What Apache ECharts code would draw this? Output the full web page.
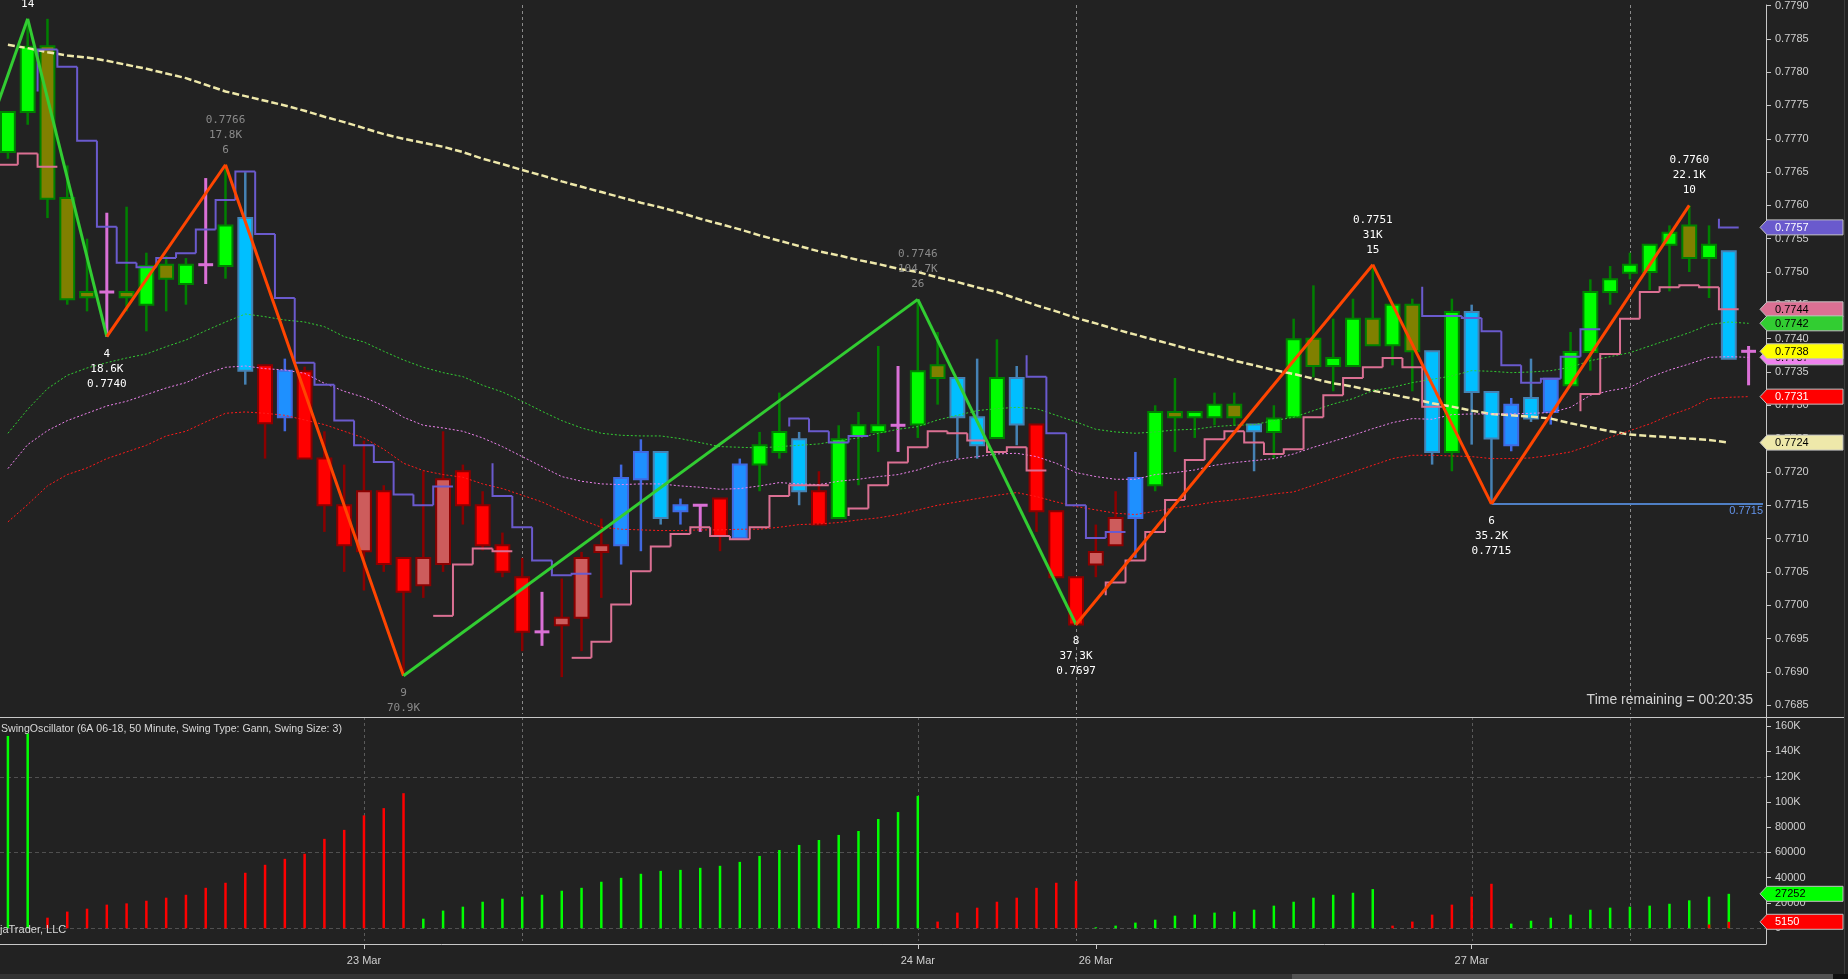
<!DOCTYPE html>
<html><head><meta charset="utf-8">
<script src="https://cdn.jsdelivr.net/npm/echarts@6.0.0/dist/echarts.min.js"></script>
<style>html,body{margin:0;padding:0;background:#222222;overflow:hidden}#c{width:1848px;height:979px}</style>
</head><body><div id="c"></div>
<script>
// ---------- DATA ----------
const barColorRows = ["GGOOODOGOG","DGCRBRRRIR","RIIRRRRDII","IBBCBDRBGG","CRGGGDGOCC","GCRRRIIBGO","GGOCGGOGGO","GOCGCCBCBG","GGGGGOGCD"];
const opens = [
0.77680,0.77740,0.77839,0.77611,0.77470,0.77470,0.77470,0.77451,0.77511,0.77482,
0.77511,0.77509,0.77581,0.77360,0.77282,0.77351,0.77220,0.77150,0.77081,0.77171,
0.77071,0.77030,0.77062,0.77201,0.77150,0.77090,0.77042,0.76960,0.76970,0.76981,
0.77080,0.77090,0.77189,0.77230,0.77141,0.77150,0.77160,0.77101,0.77211,0.77230,
0.77249,0.77171,0.77131,0.77254,0.77260,0.77270,0.77271,0.77360,0.77341,0.77282,
0.77251,0.77341,0.77271,0.77141,0.77042,0.77061,0.77090,0.77131,0.77180,0.77290,
0.77282,0.77282,0.77301,0.77271,0.77260,0.77282,0.77400,0.77359,0.77359,0.77430,
0.77390,0.77451,0.77381,0.77230,0.77440,0.77320,0.77240,0.77311,0.77290,0.77330,
0.77380,0.77470,0.77499,0.77500,0.77541,0.77570,0.77521,0.77531,0.77381];
const highs = [
0.77740,0.77880,0.77880,0.77660,0.77550,0.77589,0.77598,0.77529,0.77524,0.77521,
0.77641,0.77661,0.77650,0.77360,0.77370,0.77358,0.77261,0.77211,0.77247,0.77180,
0.77071,0.77201,0.77261,0.77211,0.77171,0.77109,0.77071,0.77020,0.77040,0.77080,
0.77130,0.77211,0.77249,0.77230,0.77160,0.77150,0.77160,0.77220,0.77260,0.77319,
0.77260,0.77201,0.77270,0.77290,0.77389,0.77359,0.77459,0.77410,0.77341,0.77370,
0.77399,0.77359,0.77271,0.77141,0.77042,0.77121,0.77171,0.77230,0.77300,0.77341,
0.77290,0.77319,0.77319,0.77271,0.77300,0.77430,0.77480,0.77430,0.77460,0.77511,
0.77451,0.77460,0.77381,0.77460,0.77451,0.77320,0.77311,0.77370,0.77340,0.77410,
0.77489,0.77509,0.77529,0.77541,0.77570,0.77600,0.77570,0.77531,0.77389];
const lows = [
0.77670,0.77721,0.77581,0.77451,0.77441,0.77403,0.77441,0.77411,0.77441,0.77451,
0.77482,0.77490,0.77331,0.77220,0.77261,0.77220,0.77110,0.77050,0.77022,0.77050,
0.76894,0.77011,0.77050,0.77121,0.77082,0.77042,0.76931,0.76939,0.76892,0.76931,
0.77011,0.77061,0.77081,0.77121,0.77121,0.77110,0.77081,0.77101,0.77171,0.77220,
0.77150,0.77121,0.77131,0.77180,0.77230,0.77230,0.77251,0.77301,0.77220,0.77220,
0.77251,0.77240,0.77110,0.77042,0.76971,0.77042,0.77090,0.77071,0.77171,0.77230,
0.77251,0.77270,0.77270,0.77201,0.77220,0.77282,0.77342,0.77321,0.77359,0.77390,
0.77360,0.77321,0.77211,0.77201,0.77241,0.77152,0.77231,0.77275,0.77271,0.77330,
0.77352,0.77451,0.77489,0.77473,0.77471,0.77500,0.77461,0.77370,0.77330];
const closes = [
0.77740,0.77838,0.77610,0.77459,0.77462,0.77470,0.77462,0.77509,0.77490,0.77511,
0.77511,0.77570,0.77352,0.77273,0.77352,0.77220,0.77150,0.77090,0.77171,0.77062,
0.77020,0.77071,0.77189,0.77150,0.77090,0.77050,0.76960,0.76960,0.76981,0.77071,
0.77090,0.77191,0.77230,0.77131,0.77150,0.77150,0.77104,0.77211,0.77240,0.77260,
0.77171,0.77121,0.77249,0.77270,0.77270,0.77270,0.77351,0.77341,0.77282,0.77240,
0.77341,0.77271,0.77141,0.77042,0.76971,0.77080,0.77131,0.77191,0.77290,0.77282,
0.77290,0.77301,0.77282,0.77261,0.77280,0.77399,0.77359,0.77371,0.77430,0.77390,
0.77451,0.77381,0.77230,0.77440,0.77320,0.77250,0.77301,0.77280,0.77340,0.77380,
0.77470,0.77489,0.77511,0.77541,0.77559,0.77521,0.77541,0.77370,0.77381];

const greenMA = [
0.77258,0.77294,0.77325,0.77345,0.77356,0.77364,0.77371,0.77377,0.77388,0.77398,
0.77412,0.77425,0.77437,0.77433,0.77428,0.77425,0.77418,0.77403,0.77395,0.77381,
0.77368,0.77357,0.77349,0.77343,0.77330,0.77320,0.77306,0.77291,0.77277,0.77266,
0.77258,0.77255,0.77254,0.77254,0.77250,0.77244,0.77238,0.77237,0.77236,0.77238,
0.77240,0.77242,0.77247,0.77251,0.77258,0.77264,0.77268,0.77278,0.77285,0.77292,
0.77295,0.77297,0.77295,0.77285,0.77275,0.77264,0.77260,0.77258,0.77260,0.77263,
0.77264,0.77268,0.77270,0.77271,0.77277,0.77282,0.77292,0.77302,0.77310,0.77322,
0.77327,0.77334,0.77339,0.77344,0.77352,0.77351,0.77349,0.77350,0.77352,0.77357,
0.77367,0.77373,0.77379,0.77389,0.77399,0.77409,0.77421,0.77425,0.77423];
const violetMA = [
0.77205,0.77241,0.77262,0.77277,0.77288,0.77299,0.77306,0.77316,0.77326,0.77334,
0.77347,0.77357,0.77359,0.77355,0.77353,0.77348,0.77333,0.77321,0.77312,0.77299,
0.77282,0.77270,0.77266,0.77261,0.77251,0.77238,0.77223,0.77208,0.77193,0.77186,
0.77182,0.77181,0.77182,0.77182,0.77179,0.77177,0.77174,0.77175,0.77179,0.77184,
0.77182,0.77181,0.77186,0.77189,0.77193,0.77196,0.77203,0.77213,0.77219,0.77223,
0.77227,0.77228,0.77223,0.77213,0.77199,0.77193,0.77189,0.77189,0.77196,0.77199,
0.77203,0.77210,0.77214,0.77217,0.77220,0.77227,0.77237,0.77246,0.77255,0.77265,
0.77274,0.77280,0.77279,0.77286,0.77287,0.77287,0.77287,0.77288,0.77289,0.77297,
0.77315,0.77322,0.77327,0.77342,0.77353,0.77362,0.77372,0.77373,0.77372];
const redMA = [
0.77125,0.77151,0.77179,0.77196,0.77206,0.77220,0.77230,0.77240,0.77254,0.77261,
0.77275,0.77288,0.77290,0.77288,0.77285,0.77278,0.77271,0.77261,0.77251,0.77234,
0.77213,0.77202,0.77196,0.77192,0.77182,0.77175,0.77165,0.77155,0.77141,0.77128,
0.77117,0.77114,0.77113,0.77112,0.77112,0.77113,0.77113,0.77114,0.77114,0.77117,
0.77121,0.77122,0.77124,0.77128,0.77131,0.77136,0.77143,0.77150,0.77155,0.77160,
0.77165,0.77169,0.77163,0.77155,0.77148,0.77143,0.77138,0.77136,0.77141,0.77146,
0.77150,0.77155,0.77158,0.77162,0.77167,0.77170,0.77180,0.77190,0.77200,0.77210,
0.77220,0.77225,0.77225,0.77224,0.77223,0.77220,0.77220,0.77221,0.77225,0.77230,
0.77240,0.77252,0.77262,0.77272,0.77285,0.77295,0.77310,0.77312,0.77313];
const slowMA = [
0.77841,0.77836,0.77830,0.77825,0.77822,0.77817,0.77811,0.77805,0.77798,0.77791,
0.77781,0.77771,0.77764,0.77757,0.77750,0.77742,0.77733,0.77725,0.77716,0.77707,
0.77700,0.77694,0.77688,0.77680,0.77670,0.77662,0.77653,0.77645,0.77636,0.77628,
0.77620,0.77612,0.77604,0.77597,0.77589,0.77580,0.77572,0.77564,0.77555,0.77547,
0.77539,0.77531,0.77525,0.77518,0.77512,0.77505,0.77500,0.77492,0.77485,0.77477,
0.77470,0.77460,0.77450,0.77441,0.77431,0.77423,0.77414,0.77406,0.77398,0.77390,
0.77382,0.77375,0.77367,0.77360,0.77353,0.77347,0.77340,0.77333,0.77328,0.77322,
0.77316,0.77310,0.77303,0.77298,0.77292,0.77287,0.77285,0.77283,0.77280,0.77273,
0.77267,0.77261,0.77256,0.77254,0.77252,0.77250,0.77248,0.77244,null];

// step lines: [first bar, value the first riser comes from, values]
const upperStepSegs = [
 [2, 0.77771, [0.77834,0.77808,0.77697,0.77568,0.77514,0.77507,0.77521,0.77528,0.77564,0.77608,0.77651,0.77557,0.77461,0.77364,0.77331,0.77277,0.77240,0.77215,0.77166,0.77150,0.77178]],
 [25, 0.77213, [0.77164,0.77117,0.77067,0.77045,0.77047]],
 [40, 0.77268, [0.77280,0.77261,0.77244,0.77254]],
 [52, 0.77375, [0.77343,0.77258,0.77150,0.77101,0.77110]],
 [72, 0.77478, [0.77434,0.77434,0.77431,0.77411,0.77360,0.77334,0.77340,0.77373,0.77414]],
 [87, 0.77580, [0.77567]]
];
const lowerStepSegs = [
 [0, null, [0.77661,0.77678,0.77658]],
 [22, null, [0.76984,0.77061,0.77085,0.77081]],
 [29, null, [0.76921,0.76945,0.77001,0.77051,0.77088,0.77107,0.77117,0.77104,0.77099,0.77117,0.77164,0.77180,0.77180]],
 [43, 0.77134, [0.77145,0.77180,0.77214,0.77237,0.77261,0.77258,0.77247,0.77230,0.77237,0.77202]],
 [56, 0.77015, [0.77034,0.77067,0.77110,0.77158,0.77218,0.77249,0.77261,0.77244,0.77227,0.77234,0.77282,0.77315,0.77341,0.77357,0.77371,0.77357,0.77298]],
 [80, 0.77291, [0.77317,0.77377,0.77430,0.77470,0.77477,0.77480,0.77477,0.77444]]
];

// swings
const swingBars   = [-3, 1, 5, 11, 20, 46, 54, 69, 75, 85];
const swingPrices = [0.77543, 0.77880, 0.77403, 0.77661, 0.76894, 0.77459, 0.76971, 0.77511, 0.77152, 0.77600];
const swingKinds  = ['L','H','L','H','L','H','L','H','L','H'];
const swingSegColors = ['G','G','O','O','G','G','O','O','O'];
const swingLabels = [null, ['14'], ['4','18.6K','0.7740'], ['0.7766','17.8K','6'], ['9','70.9K'], ['0.7746','104.7K','26'], ['8','37.3K','0.7697'], ['0.7751','31K','15'], ['6','35.2K','0.7715'], ['0.7760','22.1K','10']];
const swingLabelGray = [false, false, false, true, true, true, false, false, false, false];

// oscillator
const oscValues = [
152000,154000,8400,13200,15500,18700,19700,21800,24200,26500,
32000,36000,43900,50200,54900,58900,70700,77800,89300,95000,
106800,7600,14000,17100,21000,23400,25000,26500,29700,32000,
36800,39900,43100,45400,46200,47800,49400,52500,57200,61900,
65900,69800,73800,76900,86400,91900,104700,5300,12400,16300,
21000,24200,32000,36000,37300,800,2100,4500,6800,10000,
10800,12400,13200,14700,17900,21000,24200,26500,28100,31000,
2100,5300,10800,18700,25000,35200,3700,6000,8400,10800,
14700,16300,17100,17900,19400,22100,25000,27252,null];
const oscColorRows = ["GGRRRRRRRR","RRRRRRRRRR","RGGGGGGGGG","GGGGGGGGGG","GGGGGGGRRR","RRRRRGGGGG","GGGGGGGGGG","RRRRRRGGGG","GGGGGGGG-"];
const oscDownOverlay = [[86, 3000], [87, 5150]];

// axes
const priceTickLabels = ['0.7685','0.7690','0.7695','0.7700','0.7705','0.7710','0.7715','0.7720','0.7725','0.7730','0.7735','0.7740','0.7745','0.7750','0.7755','0.7760','0.7765','0.7770','0.7775','0.7780','0.7785','0.7790'];
const oscTickValues = [0,20000,40000,60000,80000,100000,120000,140000,160000];
const oscTickLabels = ['0','20000','40000','60000','80000','100K','120K','140K','160K'];
const dayBars = [18, 46, 55, 74];
const dayLabels = ['23 Mar','24 Mar','26 Mar','27 Mar'];
const sessionBreaks = [26, 54, 82];
const oscGridBars = [18, 46, 74];
const oscGridValues = [0, 60000, 120000];

// ---------- LAYOUT / STYLE ----------
const PLOT_W = 1766, PRICE_H = 717, OSC_TOP = 717, OSC_H = 227;
const X_MIN = -0.4, X_MAX = 88.88;
const P_MIN = 0.768322, P_MAX = 0.7790075;
const O_MIN = -12411, O_MAX = 167036;
const AXIS_C = '#c8c8c8', LABEL_C = '#d0d0d0';
const FONT = '"Liberation Sans", Arial, sans-serif';
const MONO = '"DejaVu Sans Mono", monospace';
const CANDLE_STYLE = {
  G:{fill:'#00ff00', stroke:'#008000'}, O:{fill:'#808000', stroke:'#008000'},
  R:{fill:'#ff0000', stroke:'#8b0000'}, I:{fill:'#cd5c5c', stroke:'#8b0000'},
  C:{fill:'#00bfff', stroke:'#4682b4'}, B:{fill:'#1e90ff', stroke:'#4169e1'},
  D:{fill:'none', stroke:'#da70d6'}
};

const barColors = barColorRows.join('');
const oscColors = oscColorRows.join('');
const N = opens.length;
const idx = Array.from({length:N}, (_, i) => i);
const priceTicks = priceTickLabels.map(Number);

function stepData(segs){
  const out = [];
  segs.forEach(([start, from, vals]) => {
    vals.forEach((v, k) => out.push({bar:start + k, v:v, prev: k === 0 ? from : vals[k-1]}));
  });
  return out;
}
const upperSteps = stepData(upperStepSegs);
const lowerSteps = stepData(lowerStepSegs);

function stepSeries(steps, color){
  return {
    type:'custom', xAxisIndex:0, yAxisIndex:0, clip:true, z:5, silent:true,
    data: steps.map(s => [s.bar, s.v]), encode:{x:0, y:1},
    renderItem:(params, api) => {
      const s = steps[params.dataIndex];
      const pts = [];
      if (s.prev != null) pts.push(api.coord([s.bar - 0.5, s.prev]));
      pts.push(api.coord([s.bar - 0.5, s.v]), api.coord([s.bar + 0.5, s.v]));
      return {type:'polyline', shape:{points:pts}, style:{stroke:color, lineWidth:2, fill:null}};
    }
  };
}

function maSeries(arr, color, width, dash, z){
  return {type:'line', xAxisIndex:0, yAxisIndex:0, data: arr.map((v, i) => [i, v]),
    showSymbol:false, symbol:'none', silent:true, clip:true, z:z, connectNulls:false,
    lineStyle:{color:color, width:width, type:dash}};
}

const candleSeries = {
  type:'custom', xAxisIndex:0, yAxisIndex:0, clip:true, z:2, silent:true,
  data: idx.map(i => [i, closes[i]]), encode:{x:0, y:1},
  renderItem:(params, api) => {
    const i = params.dataIndex;
    const st = CANDLE_STYLE[barColors[i]];
    const pO = api.coord([i, opens[i]]), pC = api.coord([i, closes[i]]);
    const pH = api.coord([i, highs[i]]), pL = api.coord([i, lows[i]]);
    const w = api.size([1, 0])[0] * 0.7;
    const x = pO[0];
    if (barColors[i] === 'D') {
      return {type:'group', children:[
        {type:'line', shape:{x1:x, y1:pH[1], x2:x, y2:pL[1]}, style:{stroke:st.stroke, lineWidth:3}},
        {type:'line', shape:{x1:x - w/2 - 0.5, y1:pO[1], x2:x + w/2 + 0.5, y2:pO[1]}, style:{stroke:st.stroke, lineWidth:3}}
      ]};
    }
    let top = Math.min(pO[1], pC[1]), bot = Math.max(pO[1], pC[1]);
    if (bot - top < 3) { const m = (top + bot) / 2; top = m - 1.5; bot = m + 1.5; }
    return {type:'group', children:[
      {type:'line', shape:{x1:x, y1:pH[1], x2:x, y2:pL[1]}, style:{stroke:st.stroke, lineWidth:2.5}},
      {type:'rect', shape:{x:x - w/2, y:top, width:w, height:bot - top}, style:{fill:st.fill, stroke:st.stroke, lineWidth:2}}
    ]};
  }
};

const zigSeries = [];
for (let k = 0; k < swingBars.length - 1; k++) {
  zigSeries.push({type:'line', xAxisIndex:0, yAxisIndex:0, silent:true, clip:true, z:6,
    data:[[swingBars[k], swingPrices[k]], [swingBars[k+1], swingPrices[k+1]]],
    showSymbol:false, symbol:'none',
    lineStyle:{color: swingSegColors[k] === 'G' ? '#32cd32' : '#ff4500', width:3}});
}

const labelIdx = swingLabels.map((l, i) => i).filter(i => swingLabels[i]);
const swingLabelSeries = {
  type:'custom', xAxisIndex:0, yAxisIndex:0, clip:false, z:8, silent:true,
  data: labelIdx.map(i => [swingBars[i], swingPrices[i]]), encode:{x:0, y:1},
  renderItem:(params, api) => {
    const i = labelIdx[params.dataIndex];
    const p = api.coord([swingBars[i], swingPrices[i]]);
    const lines = swingLabels[i];
    const color = swingLabelGray[i] ? '#8a8a8a' : '#ffffff';
    const kids = lines.map((t, k) => {
      const y = swingKinds[i] === 'H' ? p[1] - 15 - (lines.length - 1 - k) * 15 : p[1] + 17 + k * 15;
      return {type:'text', x:p[0], y:y, style:{text:t, fill:color, font:'11px ' + MONO, align:'center', verticalAlign:'middle'}};
    });
    return {type:'group', children:kids};
  }
};

const lowLineSeries = {
  type:'custom', xAxisIndex:0, yAxisIndex:0, clip:false, z:6, silent:true,
  data:[[swingBars[8], swingPrices[8]]], encode:{x:0, y:1},
  renderItem:(params, api) => {
    const p = api.coord([swingBars[8], swingPrices[8]]);
    const cs = params.coordSys; const xr = cs.x + cs.width - 3;
    return {type:'group', children:[
      {type:'line', shape:{x1:p[0], y1:p[1], x2:xr, y2:p[1]}, style:{stroke:'#4f7fc4', lineWidth:2}},
      {type:'text', x:xr, y:p[1] + 1.5, style:{text:swingPrices[8].toFixed(4), fill:'#6495ed', font:'11px ' + FONT, align:'right', verticalAlign:'top'}}
    ]};
  }
};

function vLineSeries(gridIdx, bars, color){
  return {type:'custom', xAxisIndex:gridIdx, yAxisIndex:gridIdx, clip:true, z:1, silent:true,
    data: bars.map(b => [b, gridIdx === 0 ? P_MIN : 0]), encode:{x:0, y:1},
    renderItem:(params, api) => {
      const cs = params.coordSys; const x = Math.round(api.coord([bars[params.dataIndex], gridIdx === 0 ? P_MIN : 0])[0]) + 0.5;
      return {type:'line', shape:{x1:x, y1:cs.y, x2:x, y2:cs.y + cs.height - 3}, style:{stroke:color, lineWidth:1, lineDash:[3,3]}};
    }};
}
const hGridSeries = {type:'custom', xAxisIndex:1, yAxisIndex:1, clip:true, z:1, silent:true,
  data: oscGridValues.map(v => [0, v]), encode:{x:0, y:1},
  renderItem:(params, api) => {
    const cs = params.coordSys; const y = Math.round(api.coord([0, oscGridValues[params.dataIndex]])[1]) + 0.5;
    return {type:'line', shape:{x1:cs.x, y1:y, x2:cs.x + cs.width, y2:y}, style:{stroke:'#505050', lineWidth:1, lineDash:[4,3]}};
  }};

const oscBarItems = [];
idx.forEach(i => { if (oscValues[i] != null) oscBarItems.push([i, oscValues[i], oscColors[i] === 'G' ? '#00ff00' : '#ff0000']); });
oscDownOverlay.forEach(([b, v]) => oscBarItems.push([b, v, '#ff0000']));
const oscSeries = {type:'custom', xAxisIndex:1, yAxisIndex:1, clip:true, z:3, silent:true,
  data: oscBarItems.map(d => [d[0], d[1]]), encode:{x:0, y:1},
  renderItem:(params, api) => {
    const d = oscBarItems[params.dataIndex];
    const p0 = api.coord([d[0], 0]), p1 = api.coord([d[0], d[1]]);
    return {type:'rect', shape:{x:p0[0] - 1.25, y:p1[1], width:2.5, height:p0[1] - p1[1]}, style:{fill:d[2]}};
  }};

function flagSeries(gridIdx, items){
  return {type:'custom', xAxisIndex:gridIdx, yAxisIndex:gridIdx, clip:false, z:30, silent:true,
    data: items.map(it => [0, it[0]]), encode:{x:0, y:1},
    renderItem:(params, api) => {
      const it = items[params.dataIndex];
      const cs = params.coordSys; const xr = cs.x + cs.width;
      const y = api.coord([0, it[0]])[1];
      return {type:'group', children:[
        {type:'polygon', shape:{points:[[xr - 6, y], [xr + 1, y - 7.5], [xr + 77, y - 7.5], [xr + 77, y + 7.5], [xr + 1, y + 7.5]]}, style:{fill:it[2], stroke:'#c0c0c0', lineWidth:1}},
        {type:'text', x:xr + 9, y:y + 0.5, style:{text:it[1], fill:it[3], font:'11px ' + FONT, align:'left', verticalAlign:'middle'}}
      ]};
    }};
}
const lastUpper = upperStepSegs[upperStepSegs.length - 1][2].slice(-1)[0];
const lastLower = lowerStepSegs[lowerStepSegs.length - 1][2].slice(-1)[0];
const lastSlow = slowMA.filter(v => v != null).slice(-1)[0];
const priceFlags = [
  [lastUpper, lastUpper.toFixed(4), '#6a5acd', '#ffffff'],
  [lastLower, lastLower.toFixed(4), '#db7093', '#000000'],
  [greenMA[N-1], greenMA[N-1].toFixed(4), '#32cd32', '#000000'],
  [violetMA[N-1], violetMA[N-1].toFixed(4), '#ee82ee', '#000000'],
  [closes[N-1], closes[N-1].toFixed(4), '#ffff00', '#000000'],
  [redMA[N-1], redMA[N-1].toFixed(4), '#ff0000', '#ffffff'],
  [lastSlow, lastSlow.toFixed(4), '#eee8aa', '#000000']
];
const lastOsc = oscValues[N-2];
const lastDown = oscDownOverlay[oscDownOverlay.length - 1][1];
const oscFlags = [
  [lastOsc, String(lastOsc), '#00ff00', '#000000'],
  [lastDown, String(lastDown), '#ff0000', '#ffffff']
];

const chart = echarts.init(document.getElementById('c'), null, {renderer:'canvas'});
chart.setOption({
  animation:false,
  backgroundColor:'#222222',
  textStyle:{fontFamily:FONT},
  grid:[
    {left:0, top:0, width:PLOT_W, height:PRICE_H, containLabel:false},
    {left:0, top:OSC_TOP, width:PLOT_W, height:OSC_H, containLabel:false}
  ],
  xAxis:[
    {gridIndex:0, type:'value', min:X_MIN, max:X_MAX, show:false},
    {gridIndex:1, type:'value', min:X_MIN, max:X_MAX, position:'bottom',
      axisLine:{show:true, onZero:false, lineStyle:{color:AXIS_C, width:1}},
      axisTick:{show:true, length:5, customValues:dayBars, lineStyle:{color:AXIS_C}},
      axisLabel:{show:true, customValues:dayBars, color:LABEL_C, fontSize:11, fontFamily:FONT, margin:11,
        formatter:v => { const k = dayBars.indexOf(Math.round(v)); return k >= 0 ? dayLabels[k] : ''; }},
      splitLine:{show:false}}
  ],
  yAxis:[
    {gridIndex:0, type:'value', position:'right', min:P_MIN, max:P_MAX,
      axisLine:{show:true, onZero:false, lineStyle:{color:AXIS_C, width:1}},
      axisTick:{show:true, length:5, customValues:priceTicks, lineStyle:{color:AXIS_C}},
      axisLabel:{show:true, customValues:priceTicks, color:LABEL_C, fontSize:11, fontFamily:FONT, margin:9,
        formatter:v => { const k = priceTicks.findIndex(t => Math.abs(t - v) < 1e-7); return k >= 0 ? priceTickLabels[k] : ''; }},
      splitLine:{show:false}},
    {gridIndex:1, type:'value', position:'right', min:O_MIN, max:O_MAX,
      axisLine:{show:true, onZero:false, lineStyle:{color:AXIS_C, width:1}},
      axisTick:{show:true, length:5, customValues:oscTickValues, lineStyle:{color:AXIS_C}},
      axisLabel:{show:true, customValues:oscTickValues, color:LABEL_C, fontSize:11, fontFamily:FONT, margin:9,
        formatter:v => { const k = oscTickValues.indexOf(Math.round(v)); return k >= 0 ? oscTickLabels[k] : ''; }},
      splitLine:{show:false}}
  ],
  series:[
    vLineSeries(0, sessionBreaks, '#8a8a8a'),
    vLineSeries(1, sessionBreaks, '#6a6a6a'),
    vLineSeries(1, oscGridBars, '#5a5a5a'),
    hGridSeries,
    candleSeries,
    maSeries(slowMA, '#eee8aa', 2.5, [7,3], 4),
    maSeries(greenMA, '#32cd32', 1, [2,2], 4),
    maSeries(violetMA, '#ee82ee', 1, [2,2], 4),
    maSeries(redMA, '#ff1a1a', 1, [2,2], 4),
    stepSeries(upperSteps, '#6a5acd'),
    stepSeries(lowerSteps, '#db7093'),
    lowLineSeries,
    ...zigSeries,
    swingLabelSeries,
    oscSeries,
    flagSeries(0, priceFlags),
    flagSeries(1, oscFlags)
  ],
  graphic:[
    {type:'line', z:50, shape:{x1:0, y1:717.5, x2:1844, y2:717.5}, style:{stroke:AXIS_C, lineWidth:1}},
    {type:'line', z:50, shape:{x1:1844.5, y1:0, x2:1844.5, y2:974}, style:{stroke:'#3a3a3a', lineWidth:1}},
    {type:'text', z:50, x:1753, y:700, style:{text:'Time remaining = 00:20:35', fill:'#d3d3d3', font:'14px ' + FONT, align:'right', verticalAlign:'middle'}},
    {type:'text', z:50, x:1, y:729, style:{text:'SwingOscillator (6A 06-18, 50 Minute, Swing Type: Gann, Swing Size: 3)', fill:'#d8d8d8', font:'10.6px ' + FONT, align:'left', verticalAlign:'middle'}},
    {type:'text', z:50, x:0, y:930, style:{text:'jaTrader, LLC', fill:'#d8d8d8', font:'11px ' + FONT, align:'left', verticalAlign:'middle'}},
    {type:'rect', z:50, shape:{x:0, y:974, width:1848, height:5}, style:{fill:'#333333'}},
    {type:'rect', z:51, shape:{x:1292, y:974, width:541, height:5}, style:{fill:'#525252'}},
    {type:'rect', z:51, shape:{x:1833, y:974, width:15, height:5}, style:{fill:'#111111'}}
  ]
});
</script></body></html>
